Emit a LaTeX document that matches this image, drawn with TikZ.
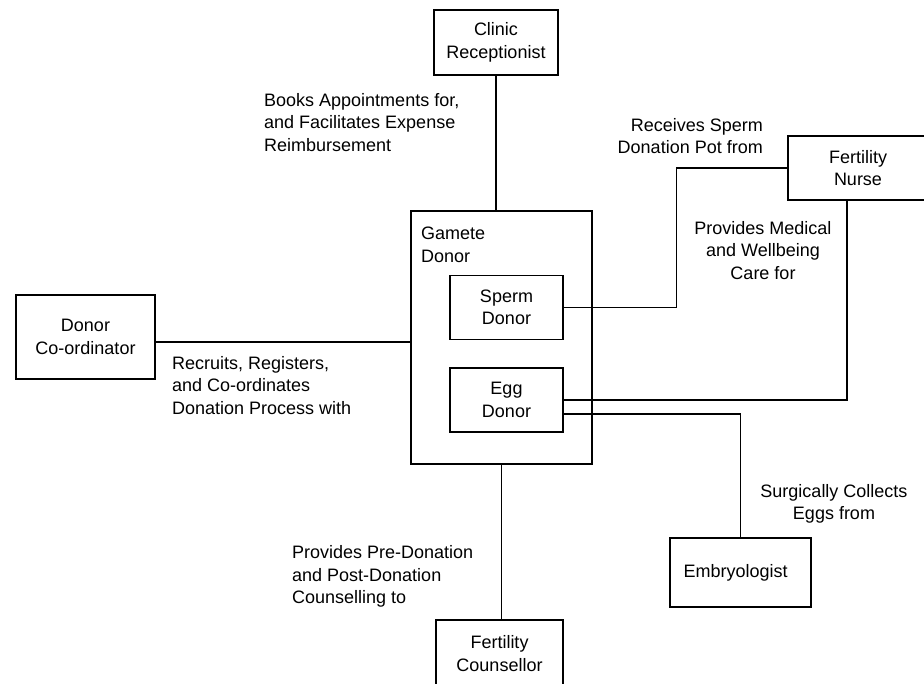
\documentclass[tikz,border=0pt]{standalone}
\usepackage{fontspec}
\setmainfont{Liberation Sans}
\usetikzlibrary{positioning}

\begin{document}
\begin{tikzpicture}[x=1pt,y=-1pt,font=\fontsize{18}{22.5}\selectfont]
\tikzset{ACTOR/.style={draw,rectangle,line width=1.3pt,align=center,inner sep=0pt}}
\tikzset{GROUP/.style={ACTOR,minimum width=181,minimum height=253}}
\tikzset{MEMBER/.style={ACTOR,minimum width=113,minimum height=64}}

\tikzset{LINK/.style={draw,line width=1.3pt}}

\tikzset{ROLE/.style={inner sep=0pt}}
\tikzset{ROLE LEFT/.style={ROLE,align=left,anchor=west}}

\clip (0,0) rectangle (924,683);

% actors
\node[ACTOR,minimum width=124,minimum height=65] (receptionist) at (496,42.5) {Clinic\\Receptionist};
\node[ACTOR,minimum width=140,minimum height=64] (nurse) at (858,168) {Fertility\\Nurse};
\node[ACTOR,minimum width=139,minimum height=84] (coordinator) at (85.5,337) {Donor\\Co-ordinator};
\node[ACTOR,align=left,text width=114,inner xsep=13.5,minimum height=69] (embryologist) at (740.5,572.5) {Embryologist};
\node[ACTOR,minimum width=127,minimum height=67] (counsellor) at (499.5,653.5) {Fertility\\Counsellor};

% gamete donor and its parts
\node[GROUP] (gamete) at (501.5,337.5) {};
\node[ROLE LEFT] (gamete label) at (421,245) {Gamete\\Donor};
\node[MEMBER] (sperm) at (506.5,307.5) {Sperm\\Donor};
\node[MEMBER] (egg) at (506.5,400) {Egg\\Donor};

% relations
\path [LINK] (receptionist.south) -- (receptionist.south |- gamete.north);
\node[ROLE LEFT] (books) at (264,122.5) {Books Appointments for,\\and Facilitates Expense\\Reimbursement};

\path [LINK] (sperm.east) -- ++(113,0) |- (nurse.west);
\node[ROLE,align=right,anchor=east] (receives) at (763,136) {Receives Sperm\\Donation Pot from};

\coordinate (nurse foot) at ([xshift=-11pt]nurse.south);
\path [LINK] (egg.east) -| (nurse foot);
\node[ROLE,align=center] (medical) at (763,250.5) {Provides Medical\\and Wellbeing\\Care for};

\coordinate (egg low) at ([yshift=-14pt]egg.east);
\path [LINK] (egg low) -| (embryologist.north);
\node[ROLE,align=center] (collects) at (834,504) {Surgically Collects\\Eggs from};

\coordinate (coordinator out) at ([yshift=-5pt]coordinator.east);
\path [LINK] (coordinator out) -- (coordinator out -| gamete.west);
\node[ROLE LEFT] (recruits) at (172,385.5) {Recruits, Registers,\\and Co-ordinates\\Donation Process with};

\path [LINK] (gamete.south) -- (gamete.south |- counsellor.north);
\node[ROLE LEFT] (counselling) at (292,576.5) {Provides Pre-Donation\\and Post-Donation\\Counselling to};

\end{tikzpicture}
\end{document}
